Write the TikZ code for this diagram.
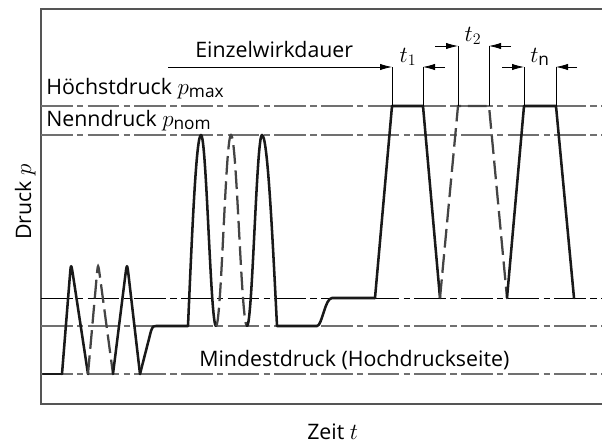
\documentclass[tikz,border=0pt]{standalone}
\usepackage{amsmath}
\usepackage[no-math]{fontspec}
\setmainfont{Open Sans}
\usepackage{xcolor}
\usetikzlibrary{positioning,arrows.meta,calc}

\definecolor{linegray}{HTML}{707070}
\definecolor{pulsegray}{HTML}{444444}
\definecolor{framegray}{HTML}{555555}

% larger math variables
\newcommand{\mv}[1]{{\fontsize{18.5}{20}\selectfont$#1$}}

\tikzset{
  levelline/.style={linegray, line width=1.1pt, dash pattern=on 23.7pt off 3.3pt on 4.7pt off 3.3pt},
  pulse/.style={black!90, line width=1.9pt, line join=round, line cap=round},
  pulsedash/.style={pulsegray, line width=1.7pt, dash pattern=on 14pt off 5pt},
  dimline/.style={black, line width=0.6pt},
  dimarrow/.style={dimline, -{Latex[length=9pt,width=4.8pt]}},
}

\begin{document}
\begin{tikzpicture}[x=0.75pt, y=-0.75pt, font=\fontsize{16}{19}\selectfont]
\useasboundingbox (0,0) rectangle (602,446);

% Frame
\draw[framegray, line width=1.1pt] (602,9) -- (41,9) -- (41,404) -- (602,404);

% Pressure levels
\foreach \y in {106, 135, 326, 374}
  \draw[levelline] (41,\y) -- (602,\y);
\draw[levelline, black, line width=0.6pt] (41,298) -- (602,298);

% Labels
\node[anchor=base west, inner sep=0pt] (hoechst) at (46,94) {Höchstdruck \mv{p_{\text{max}}}};
\node[anchor=base west, inner sep=0pt] (nenn) at (46,126) {Nenndruck \mv{p_{\text{nom}}}};
\node[anchor=base west, inner sep=0pt] (einzel) at (195,57) {Einzelwirkdauer};
\node[anchor=base west, inner sep=0pt] (mindest) at (199,366) {Mindestdruck (Hochdruckseite)};
\node[anchor=base west, inner sep=0pt] (zeit) at (307,439) {Zeit \mv{t}};
\node[anchor=base, rotate=90, inner sep=0pt] (druck) at (31,202) {Druck \mv{p}};

% Small pulses (min. pressure)
\draw[pulse] (43,374) -- (62,374);
\foreach \a/\p/\b/\s in {62/71/88/pulse, 88/98/113/pulsedash, 113/127/140/pulse}
  \draw[\s] (\a,374) -- ($(\a,374)!.85!(\p,262)$) .. controls (\p,262) .. ($(\p,262)!.15!(\b,374)$) -- (\b,374);

% Nominal pressure pulses
\draw[pulse] (140,374) -- (151,331) .. controls (153,326) .. (156,326) -- (188,326)
  sin (201,135) cos (208.5,230) sin (216,326);
\draw[pulsedash] (216,326) cos (223.5,230) sin (231,135) cos (239,230) sin (247,326);
\draw[pulse] (247,326) cos (254.5,230) sin (262,135) cos (277,326) -- (317,326)
  .. controls (322,326) and (325,298) .. (332,298) -- (375,298);

% Max pressure pulses
\draw[pulse] (375,298) -- (392,106) -- (423,106) -- (440,298);
\draw[pulsedash] (440,298) -- (458,106) -- (489,106) -- (507,298);
\draw[pulse] (507,298) -- (524,106) -- (556,106) -- (574,298);

% Durations t1, t2, tn
\foreach \n/\xl/\xr/\yd in {1/392/423/67, 2/458/489/46, n/524/556/67} {
  \coordinate (l\n) at (\xl,\yd);
  \coordinate (r\n) at (\xr,\yd);
  \draw[dimline] (\xl,106) -- (l\n);
  \draw[dimline] (\xr,106) -- (r\n);
}
\coordinate (ez) at (168,67);
\coordinate (r1o) at (445,67);
\coordinate (l2o) at (435,46);
\coordinate (r2o) at (511,46);
\coordinate (lno) at (502,67);
\coordinate (rno) at (577,67);
\draw[dimarrow] (ez) -- (l1);
\draw[dimarrow] (r1o) -- (r1);
\draw[dimarrow] (l2o) -- (l2);
\draw[dimarrow] (r2o) -- (r2);
\draw[dimarrow] (lno) -- (ln);
\draw[dimarrow] (rno) -- (rn);

\node[anchor=base, inner sep=0pt] (t1) at (408,62) {\mv{t_1}};
\node[anchor=base, inner sep=0pt] (t2) at (473,41) {\mv{t_2}};
\node[anchor=base, inner sep=0pt] (tn) at (540,62) {\mv{t_{\text{n}}}};
\end{tikzpicture}
\end{document}
